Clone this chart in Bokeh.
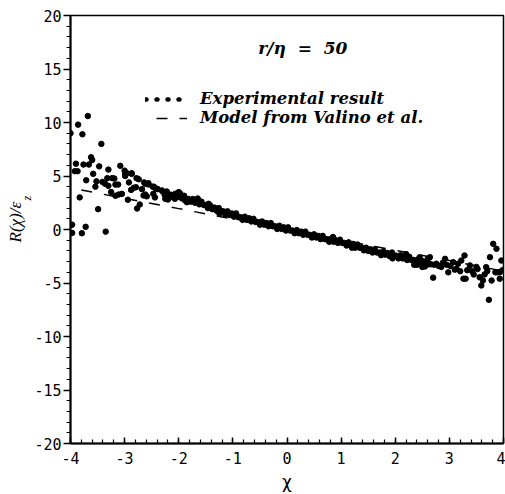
import numpy as np
from bokeh.plotting import figure
from bokeh.models import (Range1d, SingleIntervalTicker, Label, Legend, LegendItem,
                          ColumnDataSource, Title)
from bokeh.embed import file_html
from bokeh.resources import INLINE

# ---------------- data ----------------
# scattered points, left side
exp_left_x = [-4.00, -3.86, -3.78, -3.68, -3.43, -3.62, -3.60, -3.90, -3.76, -3.66,
              -3.92, -3.87, -3.47, -3.30, -3.08, -3.58, -3.00, -2.96, -2.87,
              -3.71, -3.52, -3.41, -3.32, -3.23, -3.19, -2.99, -2.78, -2.74, -3.54,
              -3.36, -3.30, -3.17, -3.12, -2.92, -2.64, -2.56, -3.25, -3.17, -3.11,
              -3.05, -2.88, -2.83, -2.79, -2.68, -2.62, -2.48, -2.44, -2.39, -2.94,
              -2.72, -2.77, -3.49, -3.83, -3.97, -3.72, -3.97, -3.79, -3.35,
              -2.65, -2.59, -2.47, -2.44, -2.31, -2.25, -2.25, -2.13, -2.07, -1.97,
              -1.94, -1.88, -2.62, -2.56, -2.46, -2.40, -2.99, -2.87]
exp_left_y = [9.0, 9.8, 8.9, 10.6, 8.0, 6.75, 6.5, 6.15, 6.07, 6.07,
              5.45, 5.45, 5.9, 5.6, 5.95, 5.2, 5.5, 5.26, 5.26,
              4.6, 4.5, 4.45, 4.8, 4.8, 4.77, 5.0, 4.8, 4.7, 4.0,
              4.27, 4.08, 4.2, 4.2, 4.4, 4.4, 4.33, 3.5, 3.15, 3.27,
              3.33, 3.7, 3.9, 3.95, 3.77, 3.27, 4.0, 3.9, 3.77, 2.78,
              2.34, 1.96, 1.9, 3.0, 0.45, 0.25, -0.32, -0.35, -0.2,
              3.18, 3.1, 3.33, 3.0, 3.65, 3.33, 2.87, 3.18, 2.87, 3.33,
              3.0, 2.7, 4.27, 4.2, 4.0, 3.8, 5.2, 5.2]

# dense central band
exp_band_x = [-2.30, -2.26, -2.22, -2.18, -2.14, -2.10, -2.06, -2.02, -1.98, -1.94,
              -1.90, -1.86, -1.82, -1.78, -1.74, -1.70, -1.66, -1.62, -1.58, -1.54,
              -1.50, -1.46, -1.42, -1.38, -1.34, -1.30, -1.26, -1.22, -1.18, -1.14,
              -1.10, -1.06, -1.02, -0.98, -0.94, -0.90, -0.86, -0.82, -0.78, -0.74,
              -0.70, -0.66, -0.62, -0.58, -0.54, -0.50, -0.46, -0.42, -0.38, -0.34,
              -0.30, -0.26, -0.22, -0.18, -0.14, -0.10, -0.06, -0.02, 0.02, 0.06,
              0.10, 0.14, 0.18, 0.22, 0.26, 0.30, 0.34, 0.38, 0.42, 0.46,
              0.50, 0.54, 0.58, 0.62, 0.66, 0.70, 0.74, 0.78, 0.82, 0.86,
              0.90, 0.94, 0.98, 1.02, 1.06, 1.10, 1.14, 1.18, 1.22, 1.26,
              1.30, 1.34, 1.38, 1.42, 1.46, 1.50, 1.54, 1.58, 1.62, 1.66,
              1.70, 1.74, 1.78, 1.82, 1.86, 1.90, 1.94, 1.98, 2.02, 2.06,
              2.10, 2.14, 2.18, 2.22, 2.26, 2.30, 2.34, 2.38, 2.42, 2.46,
              2.50, 2.54, 2.58, 2.62, 2.66,
              -2.20, -2.00, -1.85, -1.65, -1.45, -1.25, 2.35, 2.45, 2.55, 2.60,
              2.50, 2.40, 1.20, 0.85, 1.95, 2.20, 2.64]
exp_band_y = [3.55, 3.25, 3.55, 3.25, 3.25, 3.0, 3.35, 3.05, 3.2, 2.9,
              3.15, 2.85, 2.85, 2.6, 2.85, 2.5, 2.65, 2.35, 2.6, 2.3,
              2.25, 2.0, 2.25, 1.9, 2.05, 1.75, 2.0, 1.7, 1.7, 1.4,
              1.7, 1.35, 1.5, 1.2, 1.5, 1.15, 1.15, 0.9, 1.2, 0.9,
              1.05, 0.75, 1.0, 0.7, 0.7, 0.45, 0.75, 0.45, 0.6, 0.3,
              0.6, 0.3, 0.3, 0.05, 0.35, 0.05, 0.2, -0.1, 0.2, -0.1,
              -0.1, -0.35, -0.05, -0.35, -0.2, -0.5, -0.2, -0.5, -0.5, -0.75,
              -0.45, -0.75, -0.6, -0.9, -0.6, -0.9, -0.9, -1.15, -0.85, -1.15,
              -1.0, -1.25, -0.95, -1.25, -1.25, -1.5, -1.2, -1.5, -1.35, -1.7,
              -1.4, -1.7, -1.7, -1.95, -1.7, -2.0, -1.85, -2.15, -1.85, -2.15,
              -2.15, -2.4, -2.05, -2.35, -2.2, -2.5, -2.15, -2.45, -2.45, -2.7,
              -2.4, -2.7, -2.55, -2.85, -2.55, -2.85, -2.85, -3.1, -2.8, -3.1,
              -2.95, -3.25, -2.95, -3.25, -3.25,
              2.8, 3.5, 2.55, 2.9, 2.4, 1.5, -3.3, -2.6, -3.45, -2.75,
              -3.5, -3.3, -1.7, -0.7, -2.7, -2.3, -2.59]

# scattered points, right side
exp_right_x = [2.70, 2.98, 3.13, 3.10, 3.22, 3.28, 3.26, 3.30, 3.38, 3.50,
               3.52, 3.56, 3.62, 3.59, 3.68, 3.73, 3.75, 3.81, 3.87, 3.78,
               3.85, 3.89, 3.93, 3.96, 3.93, 2.92, 3.07, 2.72, 2.76, 2.80,
               2.85, 2.88, 2.95, 3.02, 3.16, 3.20, 3.33, 3.42, 3.45, 3.65,
               3.70, 3.98]
exp_right_y = [-4.5, -4.0, -3.67, -3.75, -2.9, -2.43, -4.6, -4.6, -3.36, -3.5,
               -3.7, -4.46, -4.77, -5.23, -3.52, -6.57, -2.59, -1.34, -1.8, -4.77,
               -4.0, -4.0, -4.0, -2.9, -4.6, -2.74, -3.05, -3.3, -3.2, -3.4,
               -3.5, -3.1, -3.3, -3.4, -3.2, -3.9, -3.8, -3.9, -4.2, -4.2,
               -3.9, -3.8]

# model from Valino et al.
model_x = [-4, -3, -2, -1, 0, 1, 2, 3, 4]
model_y = [3.9, 2.9, 1.95, 0.97, 0.0, -0.97, -1.95, -2.9, -3.9]

x_ticks = [-4, -3, -2, -1, 0, 1, 2, 3, 4]
x_tick_labels = ["-4", "-3", "-2", "-1", "0", "1", "2", "3", "4"]
y_ticks = [-20, -15, -10, -5, 0, 5, 10, 15, 20]
y_tick_labels = ["-20", "-15", "-10", "-5", "0", "5", "10", "15", "20"]

exp_x = exp_left_x + exp_band_x + exp_right_x
exp_y = exp_left_y + exp_band_y + exp_right_y

# ---------------- figure ----------------
p = figure(width=505, height=494, output_backend="svg", toolbar_location=None,
           x_range=Range1d(-4, 4), y_range=Range1d(-20, 20),
           min_border_left=70, min_border_right=2, min_border_top=15, min_border_bottom=51)
p.background_fill_color = "white"
p.border_fill_color = "white"
p.grid.visible = False
p.outline_line_color = "black"
p.outline_line_width = 1.5

p.xaxis.ticker = SingleIntervalTicker(interval=1, num_minor_ticks=5)
p.yaxis.ticker = SingleIntervalTicker(interval=5, num_minor_ticks=5)
p.xaxis.major_label_overrides = dict(zip(x_ticks, x_tick_labels))
p.yaxis.major_label_overrides = dict(zip(y_ticks, y_tick_labels))

for ax in (p.xaxis[0], p.yaxis[0]):
    ax.axis_line_width = 2
    ax.axis_line_color = "black"
    ax.major_tick_line_color = "black"
    ax.minor_tick_line_color = "black"
    ax.major_tick_line_width = 1.5
    ax.minor_tick_line_width = 1.2
    ax.major_label_text_font = "DejaVu Sans Mono"
    ax.major_label_text_font_size = "15px"
    ax.major_label_text_color = "black"

p.xaxis.major_tick_in = 6
p.xaxis.major_tick_out = 0
p.xaxis.minor_tick_in = 4
p.xaxis.minor_tick_out = 0
p.xaxis.major_label_standoff = 8
p.xaxis.axis_label = "χ"
p.xaxis.axis_label_standoff = 5
p.xaxis.axis_label_text_font = "DejaVu Sans"
p.xaxis.axis_label_text_font_style = "normal"
p.xaxis.axis_label_text_font_size = "17px"
p.xaxis.axis_label_text_color = "black"

p.yaxis.major_tick_in = 0
p.yaxis.major_tick_out = 7
p.yaxis.minor_tick_in = 0
p.yaxis.minor_tick_out = 4
p.yaxis.major_label_standoff = 2
p.yaxis.axis_label_standoff = 0

# y axis label: main text plus a subscript "z" placed as two side titles
t_sub = Title(text="z", align="left", offset=243, standoff=-9, vertical_align="top",
              text_font="Liberation Serif", text_font_style="italic",
              text_font_size="12px", text_color="black")
t_main = Title(text="R(χ)/ε", align="left", offset=201, standoff=0,
               text_font="Liberation Serif", text_font_style="italic",
               text_font_size="17px", text_color="black")
p.add_layout(t_sub, "left")
p.add_layout(t_main, "left")

# model line
model_src = ColumnDataSource(dict(x=model_x, y=model_y))
r_model = p.line("x", "y", source=model_src, line_color="black", line_width=1.5,
                 line_dash="11 12", line_dash_offset=12)

# experimental points
exp_src = ColumnDataSource(dict(x=exp_x, y=exp_y))
p.scatter("x", "y", source=exp_src, size=5.5, color="black")

# legend key for the dotted sample (no visible data, legend only)
key_src = ColumnDataSource(dict(x=np.array([np.nan, np.nan]), y=np.array([np.nan, np.nan])))
r_dots = p.line("x", "y", source=key_src, line_color="black", line_width=4.5,
                line_dash="1 10", line_cap="round")

legend = Legend(items=[LegendItem(label="Experimental result", renderers=[r_dots]),
                       LegendItem(label="Model from Valino et al.", renderers=[r_model])],
                location=(75, 316), orientation="vertical")
legend.background_fill_alpha = 0
legend.border_line_color = None
legend.padding = 0
legend.margin = 0
legend.spacing = -6
legend.glyph_width = 42
legend.glyph_height = 16
legend.label_height = 16
legend.label_standoff = 13
legend.label_text_font = "DejaVu Serif"
legend.label_text_font_style = "bold italic"
legend.label_text_font_size = "16.5px"
legend.label_text_color = "black"
p.add_layout(legend)

# annotation
p.add_layout(Label(x=-0.53, y=17.0, text="r/η\u00a0 =\u00a0 50", text_align="left",
                   text_baseline="middle", text_font="DejaVu Serif",
                   text_font_style="bold italic", text_font_size="17px",
                   text_color="black"))

open("out.html", "w").write(file_html(p, INLINE))
